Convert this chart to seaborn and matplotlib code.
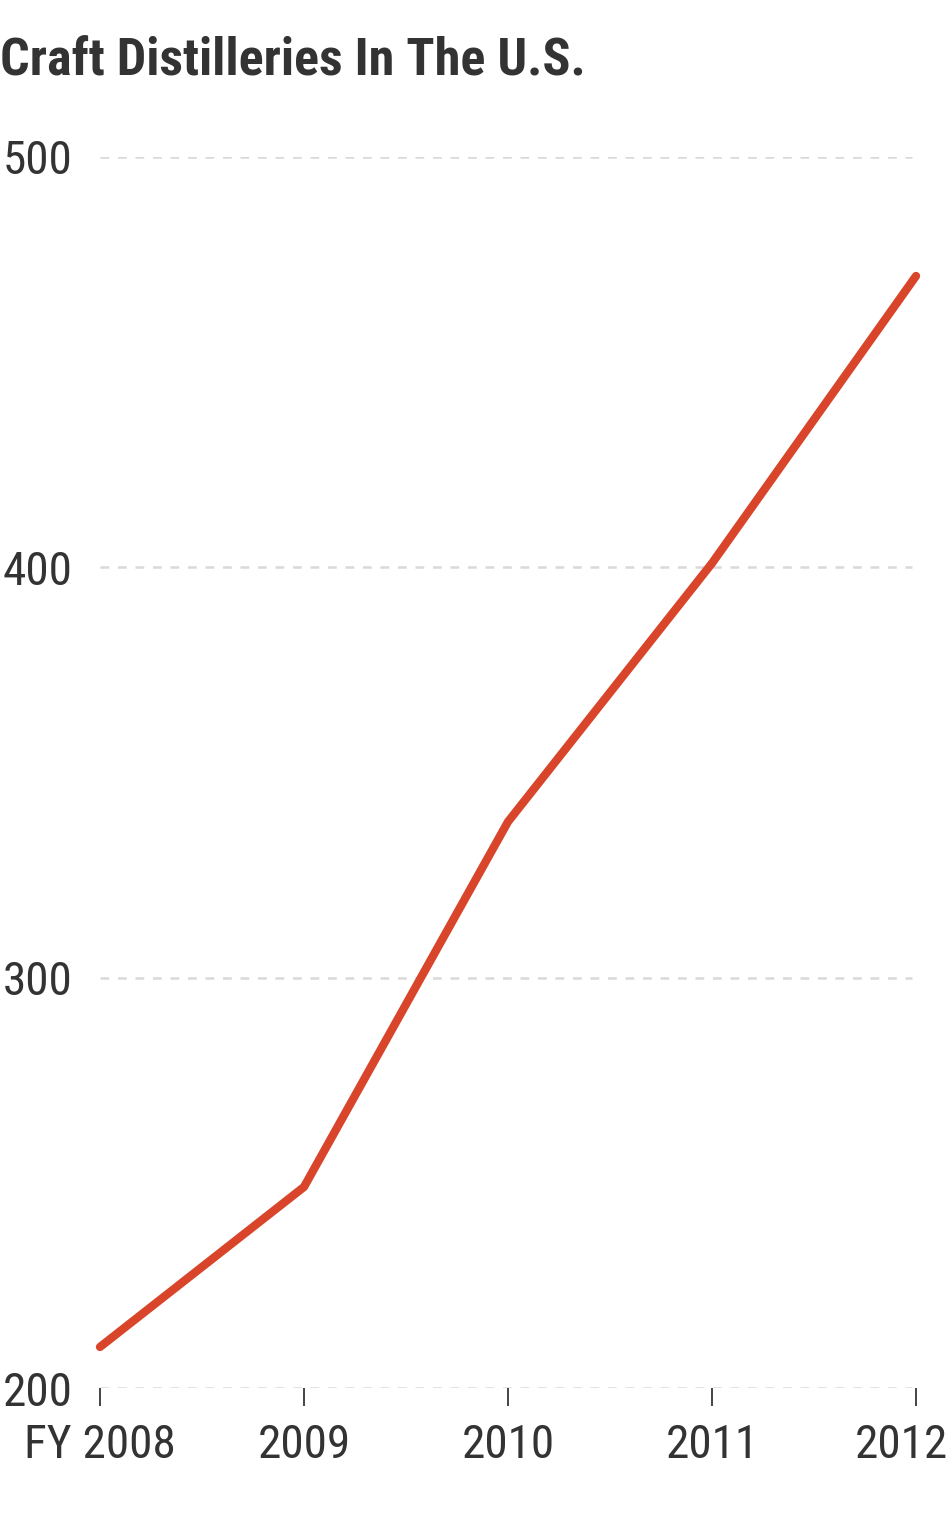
import matplotlib
matplotlib.use("Agg")
import matplotlib.pyplot as plt
import matplotlib.transforms as mtransforms
import seaborn as sns
import pandas as pd

years = [2008, 2009, 2010, 2011, 2012]
distilleries = [210, 249, 338, 401, 471]
year_labels = ["FY 2008", "2009", "2010", "2011", "2012"]
y_ticks = [200, 300, 400, 500]

df = pd.DataFrame({"year": years, "count": distilleries})

sns.set_theme(style="white")
plt.rcParams["font.family"] = ["Roboto Condensed", "DejaVu Sans"]

text_color = "#333333"
line_color = "#d9452b"

fig = plt.figure(figsize=(9.48, 15.16), dpi=100)
ax = fig.add_axes([100 / 948, (1516 - 1388) / 1516, 816 / 948, (1388 - 157) / 1516])

# dashed gridlines
for v in y_ticks:
    ax.axhline(v, xmin=0, xmax=812 / 816, color="#d9d9d9", lw=1.8,
               ls=(0, (3.5, 3.5)), zorder=1)

sns.lineplot(data=df, x="year", y="count", ax=ax, color=line_color,
             linewidth=6, solid_capstyle="round", solid_joinstyle="round",
             clip_on=False, zorder=3)

ax.set_xlim(2008, 2012)
ax.set_ylim(200, 500)
ax.set_xlabel("")
ax.set_ylabel("")
for s in ax.spines.values():
    s.set_visible(False)

ax.set_yticks(y_ticks)
ax.set_yticklabels([str(v) for v in y_ticks])
ax.tick_params(axis="y", length=0, pad=70, labelsize=34, labelcolor=text_color)
for lbl in ax.get_yticklabels():
    lbl.set_horizontalalignment("left")

ax.set_xticks(years)
ax.set_xticklabels(year_labels)
ax.tick_params(axis="x", bottom=True, length=13, width=1.4, color="#444444",
               pad=12, labelsize=34, labelcolor=text_color, direction="out")
last = ax.get_xticklabels()[-1]
last.set_transform(last.get_transform() +
                   mtransforms.ScaledTranslation(-0.15, 0, fig.dpi_scale_trans))

fig.text(0, 1 - 62 / 1516, "Craft Distilleries In The U.S.", fontsize=37.5,
         fontweight="bold", color=text_color, ha="left", va="center")

fig.savefig("out.png", dpi=100)
